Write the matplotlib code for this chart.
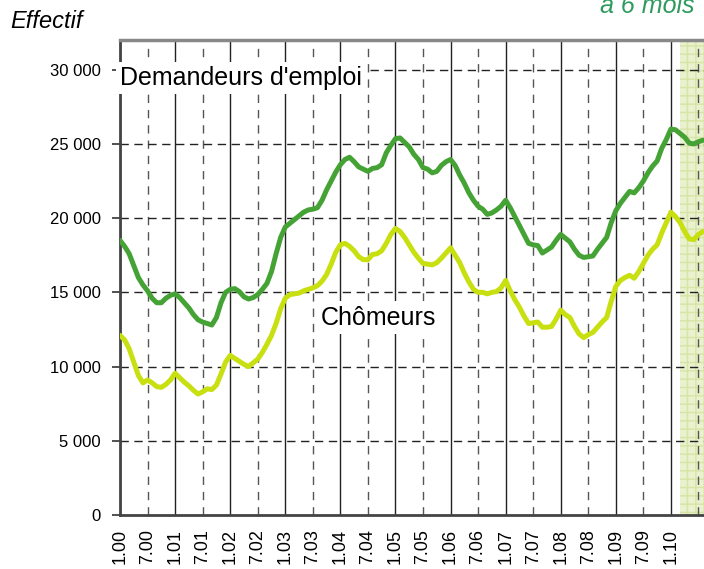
import matplotlib
matplotlib.use("Agg")
import matplotlib.pyplot as plt
from matplotlib.ticker import FixedLocator, FuncFormatter

plt.rcParams['font.family'] = ['Liberation Sans', 'DejaVu Sans']

# Monthly values, Jan 2000 onward (month index 0 = 1.00)
demandeurs = [18500, 18100, 17600, 16800, 16000, 15500, 15100, 14600, 14300, 14300,
              14600, 14800, 14900, 14650, 14300, 13950, 13500, 13150, 13000, 12900,
              12800, 13300, 14300, 15000, 15200, 15250, 15050, 14700, 14550, 14650,
              14850, 15200, 15600, 16400, 17600, 18700, 19400, 19650, 19900, 20150,
              20400, 20550, 20600, 20700, 21200, 21900, 22500, 23100, 23600, 23950,
              24100, 23800, 23450, 23300, 23150, 23350, 23400, 23600, 24400, 24900,
              25350, 25400, 25100, 24800, 24300, 23950, 23400, 23300, 23050, 23150,
              23550, 23800, 23950, 23550, 22900, 22350, 21700, 21200, 20800, 20600,
              20250, 20350, 20550, 20800, 21200, 20700, 20100, 19500, 18900, 18300,
              18200, 18150, 17650, 17850, 18050, 18500, 18900, 18650, 18400, 17900,
              17500, 17350, 17400, 17450, 17900, 18300, 18700, 19700, 20500, 21000,
              21400, 21800, 21700, 22050, 22500, 23050, 23500, 23850, 24700, 25300,
              26000, 25950, 25700, 25450, 25050, 25000, 25150, 25250]

chomeurs = [12100, 11800, 11200, 10300, 9400, 8900, 9100, 8900, 8650, 8600,
            8800, 9100, 9550, 9250, 8950, 8700, 8400, 8150, 8300, 8500,
            8450, 8750, 9500, 10300, 10750, 10550, 10350, 10150, 10000, 10250,
            10500, 10950, 11500, 12100, 12900, 13900, 14600, 14850, 14900, 14950,
            15100, 15200, 15300, 15450, 15750, 16200, 16900, 17700, 18200, 18300,
            18100, 17800, 17400, 17200, 17200, 17550, 17600, 17800, 18300, 18900,
            19300, 19100, 18700, 18200, 17700, 17300, 16950, 16900, 16850, 17000,
            17300, 17650, 18000, 17500, 17000, 16300, 15700, 15200, 15000, 15000,
            14900, 15000, 15050, 15300, 15800, 15100, 14500, 14000, 13400, 12900,
            12950, 13000, 12650, 12650, 12700, 13200, 13800, 13500, 13300, 12700,
            12200, 11950, 12150, 12300, 12650, 13000, 13300, 14400, 15400, 15800,
            16000, 16150, 15950, 16400, 16950, 17500, 17900, 18200, 19000, 19700,
            20400, 20100, 19700, 19100, 18600, 18550, 18900, 19100]

tick_labels = ["1.00", "7.00", "1.01", "7.01", "1.02", "7.02", "1.03", "7.03",
               "1.04", "7.04", "1.05", "7.05", "1.06", "7.06", "1.07", "7.07",
               "1.08", "7.08", "1.09", "7.09", "1.10"]
y_ticks = [0, 5000, 10000, 15000, 20000, 25000, 30000]
forecast_start = 122

months = list(range(len(demandeurs)))
tick_pos = [6 * i for i in range(len(tick_labels))]

fig = plt.figure(figsize=(7.04, 5.69), dpi=100)
ax = fig.add_axes([120 / 704, 54 / 569, 606 / 704, 475 / 569])
ax.set_xlim(0, 132)
ax.set_ylim(0, 32000)

# forecast shading
ax.axvspan(forecast_start, 132, facecolor='#eaf1cf', edgecolor='#d6e4a6',
           hatch='++', linewidth=0, zorder=0)

# grid
for p in tick_pos:
    if p % 12 == 0:
        ax.axvline(p, color='#222222', lw=1.0, zorder=1)
    else:
        ax.axvline(p, color='#555555', lw=1.0, ls=(0, (6, 5)), zorder=1)
ax.axvline(126, color='#555555', lw=1.0, ls=(0, (6, 5)), zorder=1)
for y in y_ticks[1:]:
    ax.axhline(y, color='#222222', lw=1.0, ls=(0, (6, 4)), zorder=1)

ax.plot(months, demandeurs, color='#45a336', lw=3.6, solid_capstyle='round',
        solid_joinstyle='round', zorder=4)
ax.plot(months, chomeurs, color='#c8df10', lw=3.6, solid_capstyle='round',
        solid_joinstyle='round', zorder=4)

ax.spines['right'].set_visible(False)
ax.spines['left'].set_color('#444444')
ax.spines['left'].set_linewidth(2)
ax.spines['bottom'].set_color('#444444')
ax.spines['bottom'].set_linewidth(2)
ax.spines['top'].set_color('#888888')
ax.spines['top'].set_linewidth(2.5)

ax.set_xticks(tick_pos)
ax.set_xticklabels(tick_labels, rotation=90, fontsize=13)
ax.xaxis.set_minor_locator(FixedLocator([p for p in tick_pos if p % 12 == 0]))
ax.tick_params(axis='x', which='major', length=0, pad=10)
ax.tick_params(axis='x', which='minor', length=7, width=1.2, color='#333333')
ax.set_yticks(y_ticks)
ax.yaxis.set_major_formatter(FuncFormatter(lambda v, p: f"{int(v):,}".replace(",", " ")))
ax.tick_params(axis='y', length=6, width=1.2, color='#333333', labelsize=12, pad=8)

ax.text(0.0, 29450, "Demandeurs d'emploi", fontsize=18, ha='left', va='center',
        bbox=dict(facecolor='white', edgecolor='none', pad=3), zorder=5)
ax.text(56.4, 13300, "Chômeurs", fontsize=18, ha='center', va='center',
        bbox=dict(facecolor='white', edgecolor='none', pad=3), zorder=5)

fig.text(10 / 704, 1 - 22 / 569, "Effectif", fontsize=17, style='italic',
         ha='left', va='center')
fig.text(695 / 704, 1 - 13 / 569, "à 6 mois", fontsize=18, style='italic',
         color='#2e9a5e', ha='right', va='baseline')

fig.savefig("out.png", dpi=100)
